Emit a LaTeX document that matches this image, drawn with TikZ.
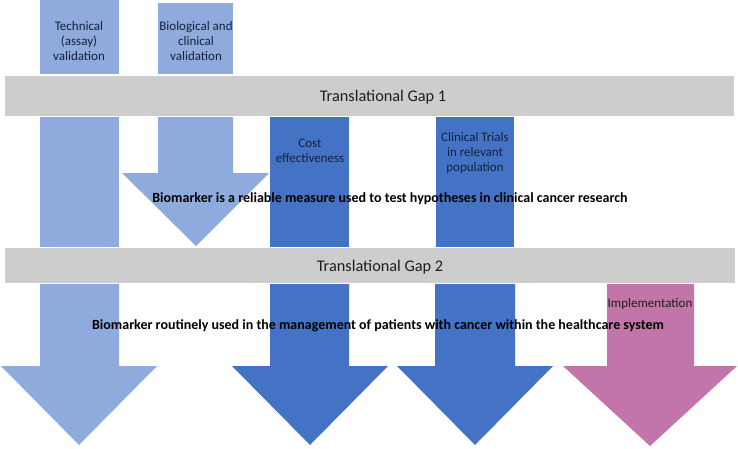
\documentclass[tikz,border=0pt]{standalone}
\usepackage{fontspec}
\setmainfont{Carlito}
\begin{document}
\begin{tikzpicture}[x=1pt,y=-1pt,
  every node/.style={inner sep=0pt,outer sep=0pt},
  boxtext/.style={align=center,font=\fontsize{13}{15}\selectfont,text=navytext},
  gaptext/.style={font=\fontsize{16.3}{19}\selectfont,text=graytext},
  boldtext/.style={font=\fontsize{14}{16}\selectfont\bfseries,text=black},
  band/.style={fill=bandgray,draw=none},
  lb/.style={fill=lightblue,draw=none},
  db/.style={fill=darkblue,draw=none},
  pk/.style={fill=pinkc,draw=none}]
\definecolor{lightblue}{HTML}{8FAADC}
\definecolor{darkblue}{HTML}{4472C4}
\definecolor{pinkc}{HTML}{C175A8}
\definecolor{bandgray}{HTML}{CDCDCD}
\definecolor{navytext}{HTML}{14213D}
\definecolor{graytext}{HTML}{1E1E1E}
\useasboundingbox (0,0) rectangle (738,448);
\fill[white] (0,0) rectangle (738,448);
% top boxes
\fill[lb] (40,0) rectangle (119,74);
\fill[lb] (158,3) rectangle (233,74);
% gap 1
\fill[band] (5,76) rectangle (734,116);
% middle row
\fill[lb] (40,117) rectangle (119,247);
\fill[lb] (158,117) -- (233,117) -- (233,173) -- (269,173) -- (196,246) -- (122,173) -- (158,173) -- cycle;
\fill[db] (270,117) rectangle (349,247);
\fill[db] (436,117) rectangle (514,247);
% gap 2
\fill[band] (5,248) rectangle (735,283);
% bottom arrows
\fill[lb] (40,284) -- (119,284) -- (119,366) -- (157,366) -- (79,445) -- (1,366) -- (40,366) -- cycle;
\fill[db] (270,284) -- (349,284) -- (349,366) -- (388,366) -- (310,445) -- (232,366) -- (270,366) -- cycle;
\fill[db] (435,284) -- (515,284) -- (515,366) -- (553,366) -- (475,445) -- (397,366) -- (435,366) -- cycle;
\fill[pk] (607,284) -- (694,284) -- (694,366) -- (737,366) -- (650,446) -- (563,366) -- (607,366) -- cycle;
% texts
\node[boxtext] (tech) at (79,41) {Technical\\(assay)\\validation};
\node[boxtext] (bio) at (196,41) {Biological and\\clinical\\validation};
\node[gaptext] (gap1) at (383,97) {Translational Gap 1};
\node[boxtext] (cost) at (310,151) {Cost\\effectiveness};
\node[boxtext] (trials) at (475,153) {Clinical Trials\\in relevant\\population};
\node[boldtext] (reliable) at (390,199) {Biomarker is a reliable measure used to test hypotheses in clinical cancer research};
\node[gaptext] (gap2) at (380,267) {Translational Gap 2};
\node[boxtext,text=graytext] (impl) at (650,304) {Implementation};
\node[boldtext] (routine) at (378,326) {Biomarker routinely used in the management of patients with cancer within the healthcare system};
\end{tikzpicture}
\end{document}
